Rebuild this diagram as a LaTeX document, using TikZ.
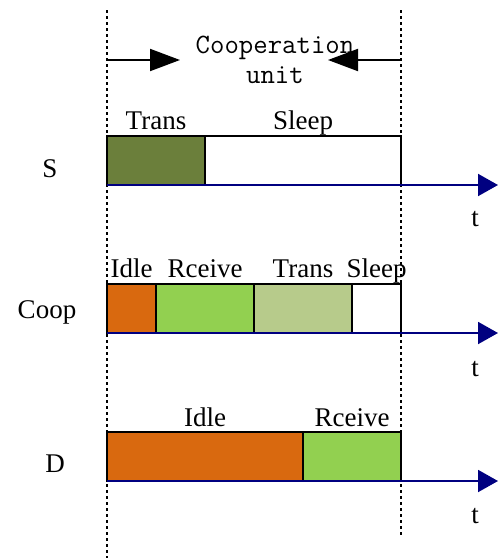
\documentclass[tikz,border=0pt]{standalone}
\usepackage{fontspec}
\setmainfont{Liberation Serif}
\usetikzlibrary{arrows.meta,positioning}
\definecolor{transdark}{HTML}{6B7F3B}
\definecolor{translight}{HTML}{B7CB8B}
\definecolor{idlecol}{HTML}{D9690F}
\definecolor{rcvcol}{HTML}{92D050}
\definecolor{axiscol}{HTML}{000080}

\begin{document}
\begin{tikzpicture}[x=1pt,y=-1pt,
  seg/.style={draw=black,line width=2pt,minimum height=49pt,inner sep=0pt,outer sep=0pt,anchor=south west},
  lbl/.style={font=\fontsize{27}{27}\selectfont,inner sep=0pt,anchor=base},
  timeaxis/.style={draw=axiscol,line width=2pt,-{Triangle[length=20pt,width=22pt]}},
  unitarrow/.style={line width=2pt,-{Triangle[length=30pt,width=22pt]}},
  bound/.style={line width=2pt,dash pattern=on 3pt off 3pt}]
  \useasboundingbox (0,0) rectangle (498,558);

  % cooperation unit boundaries
  \coordinate (lt) at (107,10);
  \coordinate (lb) at (107,558);
  \coordinate (rt) at (401,10);
  \coordinate (rb) at (401,535);
  \draw[bound] (lt) -- (lb);
  \draw[bound] (rt) -- (rb);
  \coordinate (ul) at (107,60);
  \coordinate (ulend) at (180,60);
  \coordinate (ur) at (401,60);
  \coordinate (urend) at (328,60);
  \draw[unitarrow] (ul) -- (ulend);
  \draw[unitarrow] (ur) -- (urend);
  \node[font=\ttfamily\fontsize{28}{30}\selectfont,align=center,inner sep=0pt,anchor=base] (unit) at (275,83) {Cooperation\\unit};

  % source S
  \node[seg,fill=transdark,minimum width=98pt] (sT) at (107,185) {};
  \node[seg,fill=white,minimum width=196pt] (sS) at (sT.south east) {};
  \node[lbl] (sTl) at ([yshift=7pt]sT.north) {Trans};
  \node[lbl] (sSl) at ([yshift=7pt]sS.north) {Sleep};
  \node[lbl] (sname) at (50,177) {S};
  \coordinate (sx) at (498,185);
  \draw[timeaxis] (sT.south west) -- (sx);
  \node[lbl] (st) at (475,226) {t};

  % cooperator
  \node[seg,fill=idlecol,minimum width=49pt] (cI) at (107,333) {};
  \node[seg,fill=rcvcol,minimum width=98pt] (cR) at (cI.south east) {};
  \node[seg,fill=translight,minimum width=98pt] (cT) at (cR.south east) {};
  \node[seg,fill=white,minimum width=49pt] (cS) at (cT.south east) {};
  \foreach \n/\t in {cI/Idle,cR/Rceive,cT/Trans,cS/Sleep}
    \node[lbl] (\n l) at ([yshift=7pt]\n.north) {\t};
  \node[lbl] (cname) at (47,318) {Coop};
  \coordinate (cx) at (498,333);
  \draw[timeaxis] (cI.south west) -- (cx);
  \node[lbl] (ct) at (475,376) {t};

  % destination D
  \node[seg,fill=idlecol,minimum width=196pt] (dI) at (107,481) {};
  \node[seg,fill=rcvcol,minimum width=98pt] (dR) at (dI.south east) {};
  \node[lbl] (dIl) at ([yshift=6pt]dI.north) {Idle};
  \node[lbl] (dRl) at ([yshift=6pt]dR.north) {Rceive};
  \node[lbl] (dname) at (55,472) {D};
  \coordinate (dx) at (498,481);
  \draw[timeaxis] (dI.south west) -- (dx);
  \node[lbl] (dt) at (475,523) {t};
\end{tikzpicture}
\end{document}
